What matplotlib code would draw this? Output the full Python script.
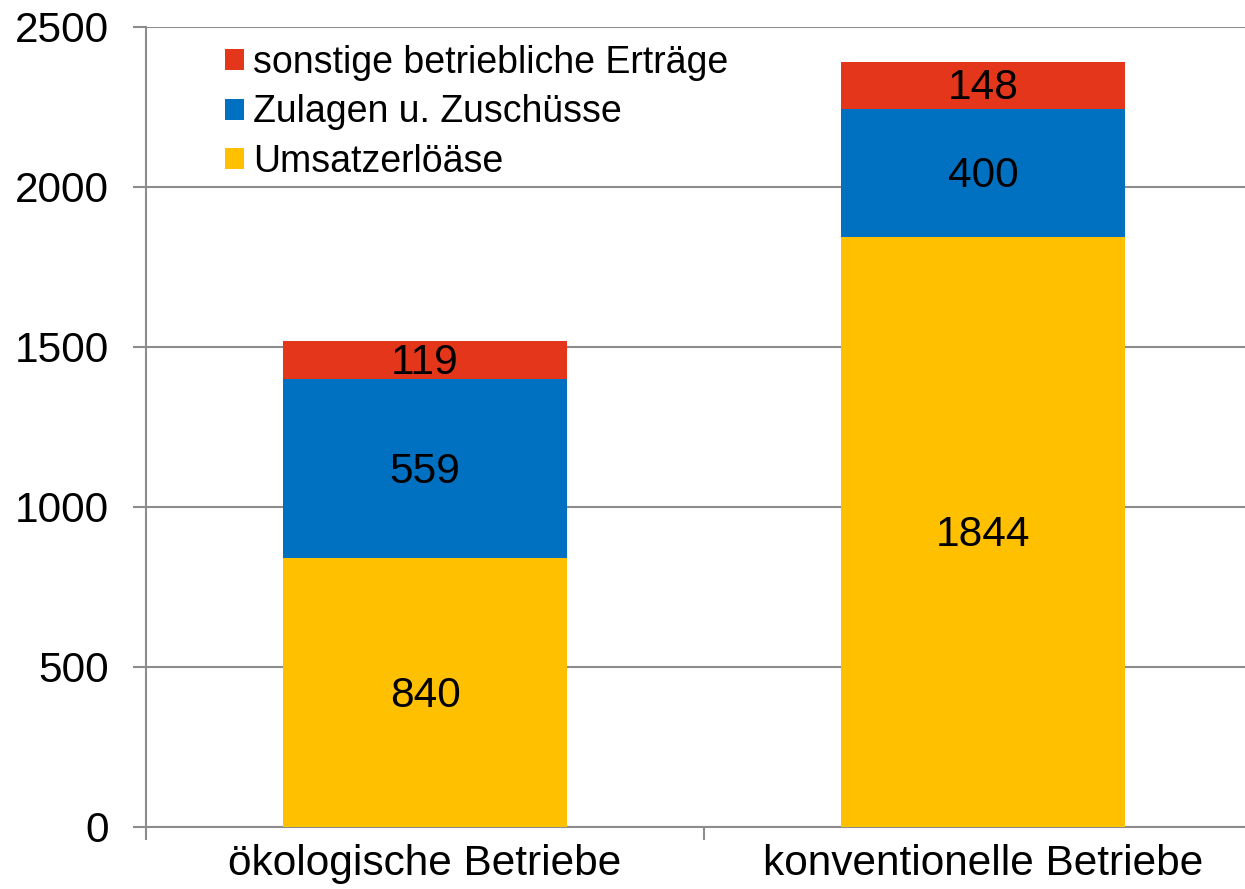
import matplotlib
matplotlib.use("Agg")
import matplotlib.pyplot as plt
import numpy as np

plt.rcParams['font.family'] = ['Liberation Sans', 'DejaVu Sans']

categories = ["ökologische Betriebe", "konventionelle Betriebe"]
umsatz = [840, 1844]
zulagen = [559, 400]
sonstige = [119, 148]
series_names = ["Umsatzerlöäse", "Zulagen u. Zuschüsse", "sonstige betriebliche Erträge"]
colors = ["#FFC000", "#0070C0", "#E3361A"]
yticks = [0, 500, 1000, 1500, 2000, 2500]

W, H = 1245, 889
fig = plt.figure(figsize=(W / 100, H / 100), dpi=100)
ax = fig.add_axes([146 / W, 62 / H, (1262 - 146) / W, 800 / H])

x = np.arange(len(categories))
bw = 0.5085
bottom = np.zeros(len(categories))
handles = []
for vals, name, col in zip([umsatz, zulagen, sonstige], series_names, colors):
    vals = np.array(vals, dtype=float)
    b = ax.bar(x, vals, bw, bottom=bottom, color=col, label=name, zorder=3)
    handles.append(b)
    for xi, v, bt in zip(x, vals, bottom):
        ax.annotate(f"{int(v)}", (xi, bt + v / 2), xytext=(0, -2.2),
                    textcoords="offset points", ha="center", va="center",
                    fontsize=30.5, color="black", zorder=4)
    bottom += vals

ax.set_xlim(-0.5, 1.5)
ax.set_ylim(0, 2500)
ax.set_yticks(yticks)
ax.set_yticklabels([str(t) for t in yticks], fontsize=30.5)
ax.set_xticks(x)
ax.set_xticklabels(categories, fontsize=30.5)
ax.set_xticks([-0.5, 0.5, 1.5], minor=True)

gc = "#8C8C8C"
ax.yaxis.grid(True, color=gc, linewidth=1.5, zorder=0)
ax.set_axisbelow(True)
for s in ["top", "right"]:
    ax.spines[s].set_visible(False)
for s in ["left", "bottom"]:
    ax.spines[s].set_color(gc)
    ax.spines[s].set_linewidth(1.5)
ax.tick_params(axis="y", which="major", length=9.4, width=1.5, color=gc, pad=17)
ax.tick_params(axis="x", which="major", length=0, pad=12)
ax.tick_params(axis="x", which="minor", length=9.4, width=1.5, color=gc)

leg = ax.legend(handles[::-1], series_names[::-1], loc="upper left",
                bbox_to_anchor=(225 / W, 1 - 45 / H), bbox_transform=fig.transFigure,
                frameon=False, fontsize=27, handlelength=0.5, handleheight=0.5,
                handletextpad=0.25, labelspacing=0.36, borderpad=0, borderaxespad=0)

fig.savefig("out.png", dpi=100)
